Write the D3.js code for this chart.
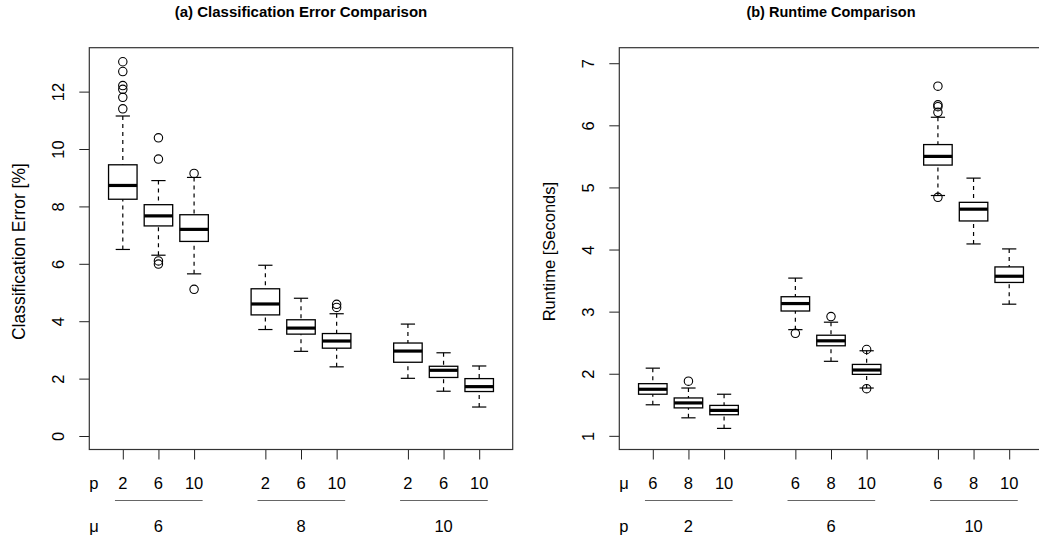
<!DOCTYPE html>
<html>
<head>
<meta charset="utf-8">
<script src="https://cdn.jsdelivr.net/npm/d3@7"></script>
<style>
  body { margin: 0; background: #fff; }
  text { font-family: "Liberation Sans", Arial, sans-serif; fill: #000; }
</style>
</head>
<body>
<svg id="chart" width="1039" height="538"></svg>
<script>
// ---- data ----

// (a) classification error, grouped by mu (outer) and p (inner)
const errInner = ["2", "6", "10"];
const errOuter = ["6", "8", "10"];
const errLo  = [6.50, 6.30, 5.65, 3.71, 2.95, 2.41, 2.01, 1.56, 1.01];
const errQ1  = [8.25, 7.32, 6.78, 4.22, 3.55, 3.06, 2.57, 2.04, 1.55];
const errMed = [8.73, 7.67, 7.20, 4.60, 3.76, 3.31, 2.96, 2.29, 1.72];
const errQ3  = [9.45, 8.06, 7.71, 5.13, 4.05, 3.57, 3.24, 2.43, 2.00];
const errHi  = [11.15, 8.90, 9.01, 5.95, 4.80, 4.26, 3.90, 2.90, 2.44];
const errOut = [[13.04, 12.70, 12.21, 12.08, 11.80, 11.40], [10.39, 9.65, 6.10, 5.99],
                [9.15, 5.11], [], [], [4.59, 4.48], [], [], []];
const errTicks = [0, 2, 4, 6, 8, 10, 12];

// (b) runtime, grouped by p (outer) and mu (inner)
const runInner = ["6", "8", "10"];
const runOuter = ["2", "6", "10"];
const runLo  = [1.50, 1.29, 1.12, 2.71, 2.20, 1.77, 4.87, 4.09, 3.12];
const runQ1  = [1.67, 1.45, 1.34, 3.01, 2.45, 1.99, 5.36, 4.46, 3.47];
const runMed = [1.75, 1.53, 1.41, 3.13, 2.53, 2.06, 5.50, 4.65, 3.57];
const runQ3  = [1.84, 1.61, 1.49, 3.24, 2.62, 2.15, 5.69, 4.76, 3.72];
const runHi  = [2.09, 1.77, 1.67, 3.54, 2.83, 2.37, 6.13, 5.15, 4.01];
const runOut = [[], [1.88], [], [2.65], [2.92], [2.39, 1.76],
                [6.63, 6.33, 6.30, 6.21, 4.84], [], []];
const runTicks = [1, 2, 3, 4, 5, 6, 7];

const svg = d3.select("#chart");
const fs = "16.5px";

// draws one boxplot panel, R style
function panel(cfg) {
	const left = cfg.left, top = 47.7, bottom = 449.5, w = 423.4;

	const x = d3.scaleLinear().domain([0.06, 11.94]).range([left, left + w]);
	const y = d3.scaleLinear().domain(cfg.ydom).range([bottom, top]);

	// box positions: 3 groups of 3 with a gap of one slot
	const at = cfg.lo.map((d, k) => Math.floor(k / 3) * 4 + (k % 3) + 1);
	const unit = x(1) - x(0);

	const g = svg.append("g");

	// title
	g.append("text")
		.attr("x", left + w / 2)
		.attr("y", 17)
		.attr("text-anchor", "middle")
		.style("font-weight", "bold")
		.style("font-size", cfg.titleSize)
		.text(cfg.title);

	// y axis
	const ya = g.append("g")
		.attr("transform", "translate(" + left + ",0)")
		.call(d3.axisLeft(y).tickValues(cfg.yticks).tickSize(10).tickFormat(d3.format("d")));
	ya.select(".domain").remove();
	ya.selectAll("line").attr("stroke", "#222");
	ya.selectAll("text")
		.attr("x", null).attr("dy", null)
		.attr("text-anchor", "middle")
		.attr("transform", "translate(-25,0) rotate(-90)")
		.style("font-size", fs)
		.attr("font-family", null);

	// y axis title
	g.append("text")
		.attr("transform", "translate(" + (left - 64) + "," + ((top + bottom) / 2 + 3) + ") rotate(-90)")
		.attr("text-anchor", "middle")
		.style("font-size", cfg.labelSize)
		.text(cfg.ylabel);

	// x axis ticks
	const xa = g.append("g")
		.attr("transform", "translate(0," + bottom + ")")
		.call(d3.axisBottom(x).tickValues(at).tickSize(10).tickFormat(""));
	xa.select(".domain").remove();
	xa.selectAll("line").attr("stroke", "#222");

	// inner and outer factor labels
	g.append("text").attr("x", left).attr("y", 489).style("font-size", fs).text(cfg.innerName);
	g.append("text").attr("x", left).attr("y", 532).style("font-size", fs).text(cfg.outerName);
	at.forEach((a, k) => {
		g.append("text")
			.attr("x", x(a)).attr("y", 489)
			.attr("text-anchor", "middle")
			.style("font-size", fs)
			.text(cfg.inner[k % 3]);
	});
	cfg.outer.forEach((lab, gi) => {
		const a0 = at[gi * 3], a2 = at[gi * 3 + 2];
		g.append("line")
			.attr("x1", x(a0 - 0.22)).attr("x2", x(a2 + 0.24))
			.attr("y1", 500.5).attr("y2", 500.5)
			.attr("stroke", "#666").attr("stroke-width", 1);
		g.append("text")
			.attr("x", x((a0 + a2) / 2)).attr("y", 532)
			.attr("text-anchor", "middle")
			.style("font-size", fs)
			.text(lab);
	});

	// boxes
	const boxes = g.append("g")
		.selectAll("g")
		.data(at.map((a, k) => ({
			a: a, lo: cfg.lo[k], q1: cfg.q1[k], med: cfg.med[k], q3: cfg.q3[k], hi: cfg.hi[k], out: cfg.out[k]
		})))
		.enter()
		.append("g");

	// whiskers (dashed)
	boxes.append("line")
		.attr("x1", d => x(d.a)).attr("x2", d => x(d.a))
		.attr("y1", d => y(d.lo)).attr("y2", d => y(d.q1))
		.attr("stroke", "#000").attr("stroke-width", 1.2).attr("stroke-dasharray", "4,4");
	boxes.append("line")
		.attr("x1", d => x(d.a)).attr("x2", d => x(d.a))
		.attr("y1", d => y(d.hi)).attr("y2", d => y(d.q3))
		.attr("stroke", "#000").attr("stroke-width", 1.2).attr("stroke-dasharray", "4,4");
	// staples
	["lo", "hi"].forEach(key => {
		boxes.append("line")
			.attr("x1", d => x(d.a) - 0.2 * unit).attr("x2", d => x(d.a) + 0.2 * unit)
			.attr("y1", d => y(d[key])).attr("y2", d => y(d[key]))
			.attr("stroke", "#000").attr("stroke-width", 1.2);
	});
	// box
	boxes.append("rect")
		.attr("x", d => x(d.a) - 0.4 * unit)
		.attr("width", 0.8 * unit)
		.attr("y", d => y(d.q3))
		.attr("height", d => y(d.q1) - y(d.q3))
		.attr("fill", "#fff").attr("stroke", "#000").attr("stroke-width", 1.3);
	// median
	boxes.append("line")
		.attr("x1", d => x(d.a) - 0.4 * unit).attr("x2", d => x(d.a) + 0.4 * unit)
		.attr("y1", d => y(d.med)).attr("y2", d => y(d.med))
		.attr("stroke", "#000").attr("stroke-width", 3.2);
	// outliers
	boxes.selectAll("circle")
		.data(d => d.out.map(v => ({ a: d.a, v: v })))
		.enter()
		.append("circle")
		.attr("cx", d => x(d.a)).attr("cy", d => y(d.v))
		.attr("r", 4.2)
		.attr("fill", "none").attr("stroke", "#000").attr("stroke-width", 1.1);

	// plot frame
	g.append("rect")
		.attr("x", left).attr("y", top)
		.attr("width", w).attr("height", bottom - top)
		.attr("fill", "none").attr("stroke", "#333").attr("stroke-width", 1.2);
}

panel({
	left: 89.3, title: "(a) Classification Error Comparison", ylabel: "Classification Error [%]",
	titleSize: "15px", labelSize: "17.5px",
	ydom: [-0.47, 13.53], yticks: errTicks,
	innerName: "p", outerName: "\u03bc", inner: errInner, outer: errOuter,
	lo: errLo, q1: errQ1, med: errMed, q3: errQ3, hi: errHi, out: errOut
});

panel({
	left: 619.3, title: "(b) Runtime Comparison", ylabel: "Runtime [Seconds]",
	titleSize: "14.5px", labelSize: "16.5px",
	ydom: [0.78, 7.25], yticks: runTicks,
	innerName: "\u03bc", outerName: "p", inner: runInner, outer: runOuter,
	lo: runLo, q1: runQ1, med: runMed, q3: runQ3, hi: runHi, out: runOut
});
</script>
</body>
</html>
